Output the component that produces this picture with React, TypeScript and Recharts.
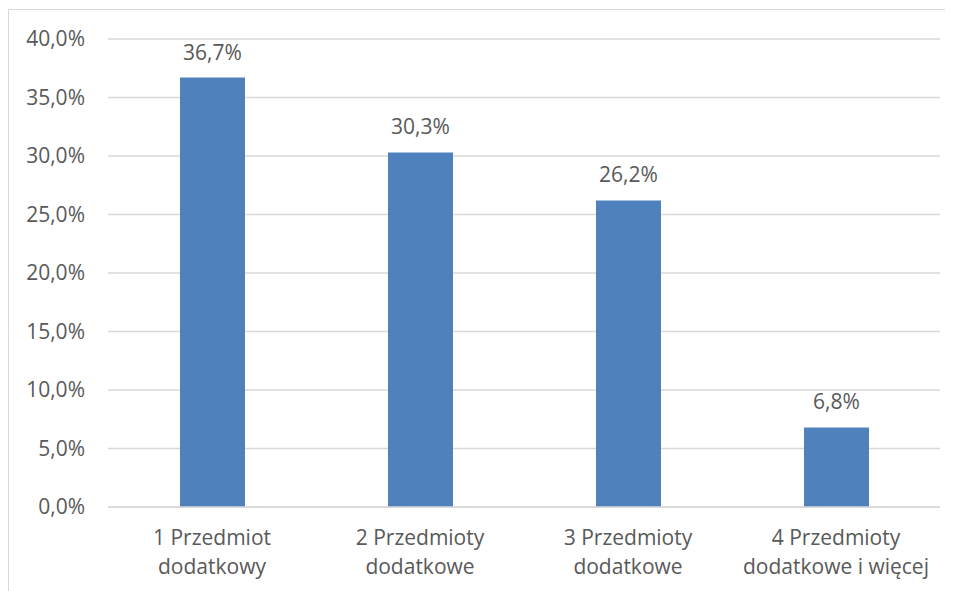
import { BarChart, Bar, XAxis, YAxis, CartesianGrid, LabelList } from "recharts";

const categories = [
  "1 Przedmiot|dodatkowy",
  "2 Przedmioty|dodatkowe",
  "3 Przedmioty|dodatkowe",
  "4 Przedmioty|dodatkowe i więcej",
];
const shares = [36.7, 30.3, 26.2, 6.8];
const yTicks = [0, 5, 10, 15, 20, 25, 30, 35, 40];

const data = categories.map((name, i) => ({ name, value: shares[i] }));

const FONT = "'Open Sans', sans-serif";
const TEXT = "#595959";
const SIZE = 21;

const fmt = (v: number) => v.toFixed(1).replace(".", ",") + "%";

function CategoryTick(props: any) {
  const { x, y, payload } = props;
  const lines = String(payload.value).split("|");
  return (
    <text x={x} y={y} textAnchor="middle" fill={TEXT} fontSize={SIZE} fontFamily={FONT}>
      {lines.map((line, i) => (
        <tspan key={i} x={x} dy={i === 0 ? 30 : 29} dominantBaseline="middle">
          {line}
        </tspan>
      ))}
    </text>
  );
}

export default function App() {
  return (
    <div
      style={{
        width: 944,
        height: 582,
        borderTop: "1px solid #d9d9d9",
        borderLeft: "1px solid #d9d9d9",
        marginTop: 1,
        background: "#fff",
        overflow: "hidden",
      }}
    >
      <BarChart
        width={944}
        height={582}
        data={data}
        margin={{ top: 29, right: 13, left: 0, bottom: 0 }}
        barSize={65}
      >
        <CartesianGrid vertical={false} stroke="#d9d9d9" strokeWidth={1.3} />
        <XAxis
          dataKey="name"
          height={85}
          axisLine={{ stroke: "#d9d9d9", strokeWidth: 1.3 }}
          tickLine={false}
          tickSize={0}
          tick={<CategoryTick />}
          interval={0}
        />
        <YAxis
          width={99}
          domain={[0, 40]}
          ticks={yTicks}
          tickFormatter={fmt}
          axisLine={false}
          tickLine={false}
          tickSize={0}
          tickMargin={23}
          tick={{ fill: TEXT, fontSize: SIZE, fontFamily: FONT }}
        />
        <Bar dataKey="value" fill="#4f81bd" isAnimationActive={false}>
          <LabelList
            dataKey="value"
            position="top"
            offset={18}
            formatter={(v: any) => fmt(Number(v))}
            fill={TEXT}
            fontSize={SIZE}
            fontFamily={FONT}
          />
        </Bar>
      </BarChart>
    </div>
  );
}
